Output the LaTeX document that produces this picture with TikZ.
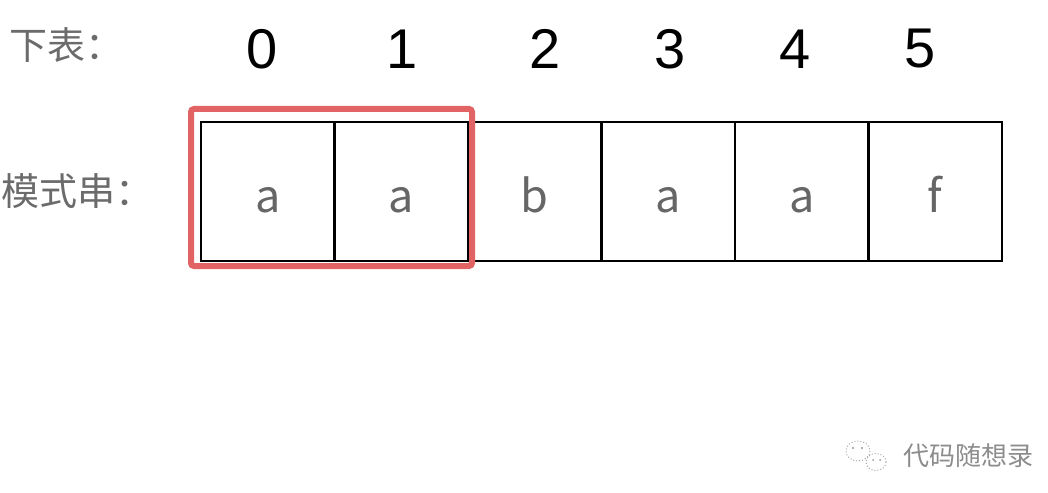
\documentclass[tikz,border=0pt]{standalone}
\usepackage{fontspec}
\setmainfont{Liberation Sans}
\newfontfamily\cjk{Noto Sans CJK SC}
\begin{document}
\begin{tikzpicture}[x=1pt,y=-1pt,
  cell/.style={draw=black,line width=2.5pt,minimum width=133.5pt,minimum height=139pt,inner sep=0pt,outer sep=0pt,anchor=north west,
    text height=41pt,text depth=0pt,
    font=\cjk\fontsize{45}{45}\selectfont,text=black!60},
  idx/.style={font=\fontsize{56}{56}\selectfont,text=black},
  lbl/.style={font=\cjk\fontsize{38}{38}\selectfont,text=black!58,anchor=west,inner sep=0pt}]
\useasboundingbox (0,0) rectangle (1048,492);
\definecolor{hlred}{RGB}{226,99,100}
% cells
\node[cell] (c0) at (201,122) {a};
\node[cell] (c1) at (c0.north east) {a};
\node[cell] (c2) at (c1.north east) {b};
\node[cell] (c3) at (c2.north east) {a};
\node[cell] (c4) at (c3.north east) {a};
\node[cell] (c5) at (c4.north east) {f};
% indices
\node[idx] (i0) at (262,49) {0};
\node[idx] (i1) at (402,49) {1};
\node[idx] (i2) at (545,49) {2};
\node[idx] (i3) at (670,49) {3};
\node[idx] (i4) at (795,49) {4};
\node[idx] (i5) at (920,49) {5};
% labels
\node[lbl] (l1) at (9,45) {下表：};
\node[lbl] (l2) at (1,191) {模式串：};
% highlight
\draw[draw=hlred,line width=6pt,rounded corners=3pt] (191,109) rectangle (472,266);
% watermark
\begin{scope}[draw=black!35,line width=1pt,dotted]
\draw (858,451) ellipse (12 and 10);
\draw (876,462) ellipse (10 and 8.5);
\end{scope}
\fill[black!40] (853,448) circle (1.2) (862,448) circle (1.2) (873,460) circle (1) (880,460) circle (1);
\node[font=\cjk\fontsize{26}{26}\selectfont,text=black!45,anchor=west,inner sep=0pt] (wm) at (903,456) {代码随想录};
\end{tikzpicture}
\end{document}
